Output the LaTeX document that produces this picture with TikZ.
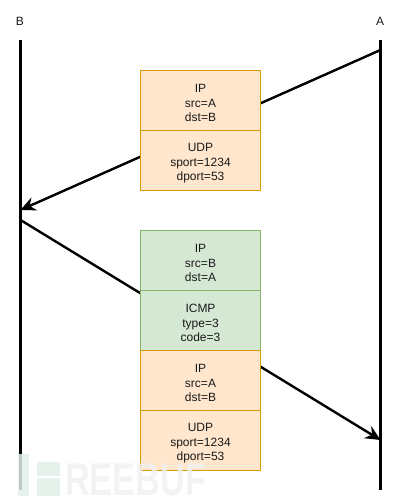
\documentclass[tikz,border=0pt]{standalone}
\usepackage{fontspec}
\setmainfont{Liberation Sans}
\newfontfamily\wmfont[FakeStretch=0.745]{Liberation Sans Bold}
\usetikzlibrary{arrows.meta}
\definecolor{orangefill}{HTML}{FFE6CC}
\definecolor{orangeline}{HTML}{D79B00}
\definecolor{greenfill}{HTML}{D5E8D4}
\definecolor{greenline}{HTML}{82B366}
\definecolor{wmgreen}{HTML}{E0EFE8}
\definecolor{wmgray}{HTML}{F0F0F0}
\newcommand{\firstline}{\rule{0pt}{14pt}}
\tikzset{
  packet/.style={draw,line width=1pt,minimum width=120pt,minimum height=60pt,inner sep=0pt,outer sep=0pt,
    align=center,font=\fontsize{12}{14}\selectfont,text=black!90},
  orangebox/.style={packet,fill=orangefill,draw=orangeline},
  greenbox/.style={packet,fill=greenfill,draw=greenline},
  lifeline/.style={line width=2.6pt,black},
  msg/.style={line width=2.4pt,black,-{Stealth[length=15pt,width=14pt,inset=5pt]}},
  hostlabel/.style={font=\fontsize{12}{14}\selectfont,text=black!90,inner sep=0pt},
}
\begin{document}
\begin{tikzpicture}[x=1pt,y=-1pt]
\useasboundingbox (0,0) rectangle (401,503);
% hosts
\node[hostlabel] (labB) at (20,21) {B};
\node[hostlabel] (labA) at (380,21) {A};
\coordinate (Btop) at (20.5,40);
\coordinate (Bbot) at (20.5,490);
\coordinate (Atop) at (380.5,40);
\coordinate (Abot) at (380.5,490);
\coordinate (m1s) at (380.5,50);
\coordinate (m1e) at (20.5,210);
\coordinate (m2s) at (20.5,220);
\coordinate (m2e) at (380.5,440);
\draw[msg] (m1s) -- (m1e);
\draw[msg] (m2s) -- (m2e);
\draw[lifeline] (Btop) -- (Bbot);
\draw[lifeline] (Atop) -- (Abot);
% packets
\node[orangebox] (p1) at (200.5,100.5) {\firstline IP\\[1pt]src=A\\dst=B};
\node[orangebox] (p2) at (200.5,160.5) {\firstline UDP\\[1pt]sport=1234\\dport=53};
\node[greenbox] (p3) at (200.5,260.5) {\firstline IP\\[1pt]src=B\\dst=A};
\node[greenbox] (p4) at (200.5,320.5) {\firstline ICMP\\[1pt]type=3\\code=3};
\node[orangebox] (p5) at (200.5,380.5) {\firstline IP\\[1pt]src=A\\dst=B};
\node[orangebox] (p6) at (200.5,440.5) {\firstline UDP\\[1pt]sport=1234\\dport=53};
% watermark
\fill[wmgreen,opacity=.85] (18,454) rectangle (29,496);
\fill[wmgreen,opacity=.85] (37,462) rectangle (60,476);
\fill[wmgreen,opacity=.85] (37,478) rectangle (60,496);
\node[inner sep=0pt,anchor=base west,text=wmgray,opacity=.8,font=\fontsize{46}{46}\selectfont\wmfont] (wm) at (65,495) {REEBUF};
\end{tikzpicture}
\end{document}
